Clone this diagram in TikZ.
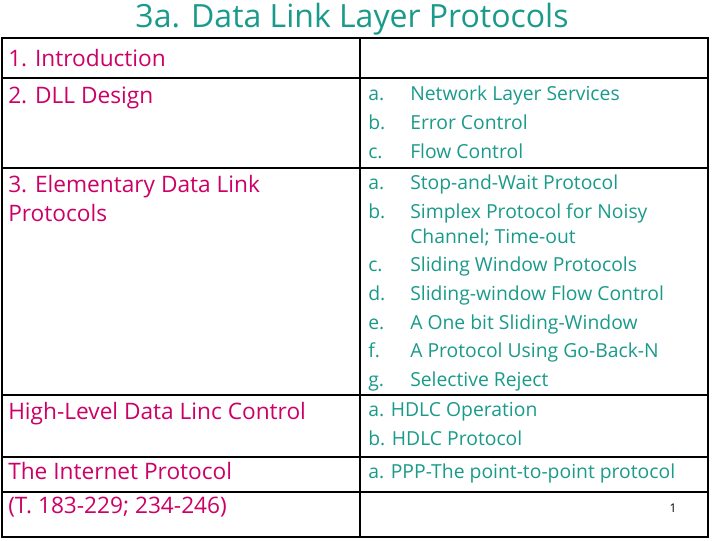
\documentclass[tikz,border=0pt]{standalone}
\usepackage{fontspec}
\setmainfont{Open Sans}
\definecolor{teal2}{HTML}{1A9A8A}
\definecolor{crim}{HTML}{CC0066}
\begin{document}
\begin{tikzpicture}[x=0.75pt,y=-0.75pt,
  lt/.style={anchor=north west,text=crim,font=\fontsize{17}{21}\selectfont,inner sep=0pt,align=left,text height=12pt},
  rt/.style={anchor=north west,text=teal2,font=\fontsize{14.5}{16}\selectfont,inner sep=0pt,align=left,text height=11pt},
  grid/.style={line width=1.6pt}]
\useasboundingbox (0,0) rectangle (720,540);
\node[text=teal2,font=\fontsize{24}{28}\selectfont] (title) at (352,19) {3a. Data Link Layer Protocols};
\draw[grid] (2,38) rectangle (708,537);
\draw[grid] (360,38) -- (360,537);
\foreach \y in {78,168,395,457,492} \draw[line width=1pt] (2,\y) -- (708,\y);
\node[lt] (l1) at (8,50) {1. Introduction};
\node[lt] (l2) at (8,87) {2. DLL Design};
\node[lt] (l3) at (8,176) {3. Elementary Data Link};
\node[lt] (l3b) at (8,205) {Protocols};
\node[lt] (l4) at (8,403) {High-Level Data Linc Control};
\node[lt] (l5) at (8,463) {The Internet Protocol};
\node[lt] (l6) at (8,497) {(T. 183-229; 234-246)};
\foreach \l/\t/\y in {a/Network Layer Services/86, b/Error Control/115, c/Flow Control/144,
  a/Stop-and-Wait Protocol/175, b/Simplex Protocol for Noisy/204, c/Sliding Window Protocols/257,
  d/Sliding-window Flow Control/286, e/A One bit Sliding-Window/315, f/A Protocol Using Go-Back-N/343, g/Selective Reject/372}
  {\node[rt] at (368,\y) {\l.}; \node[rt] at (410,\y) {\t};}
\node[rt] (ct) at (410,229) {Channel; Time-out};
\node[rt] (h1) at (368,402) {a. HDLC Operation};
\node[rt] (h2) at (368,431) {b. HDLC Protocol};
\node[rt] (p1) at (368,464) {a. PPP-The point-to-point protocol};
\node[font=\fontsize{9}{10}\selectfont] (pg) at (673,508) {1};
\end{tikzpicture}
\end{document}
